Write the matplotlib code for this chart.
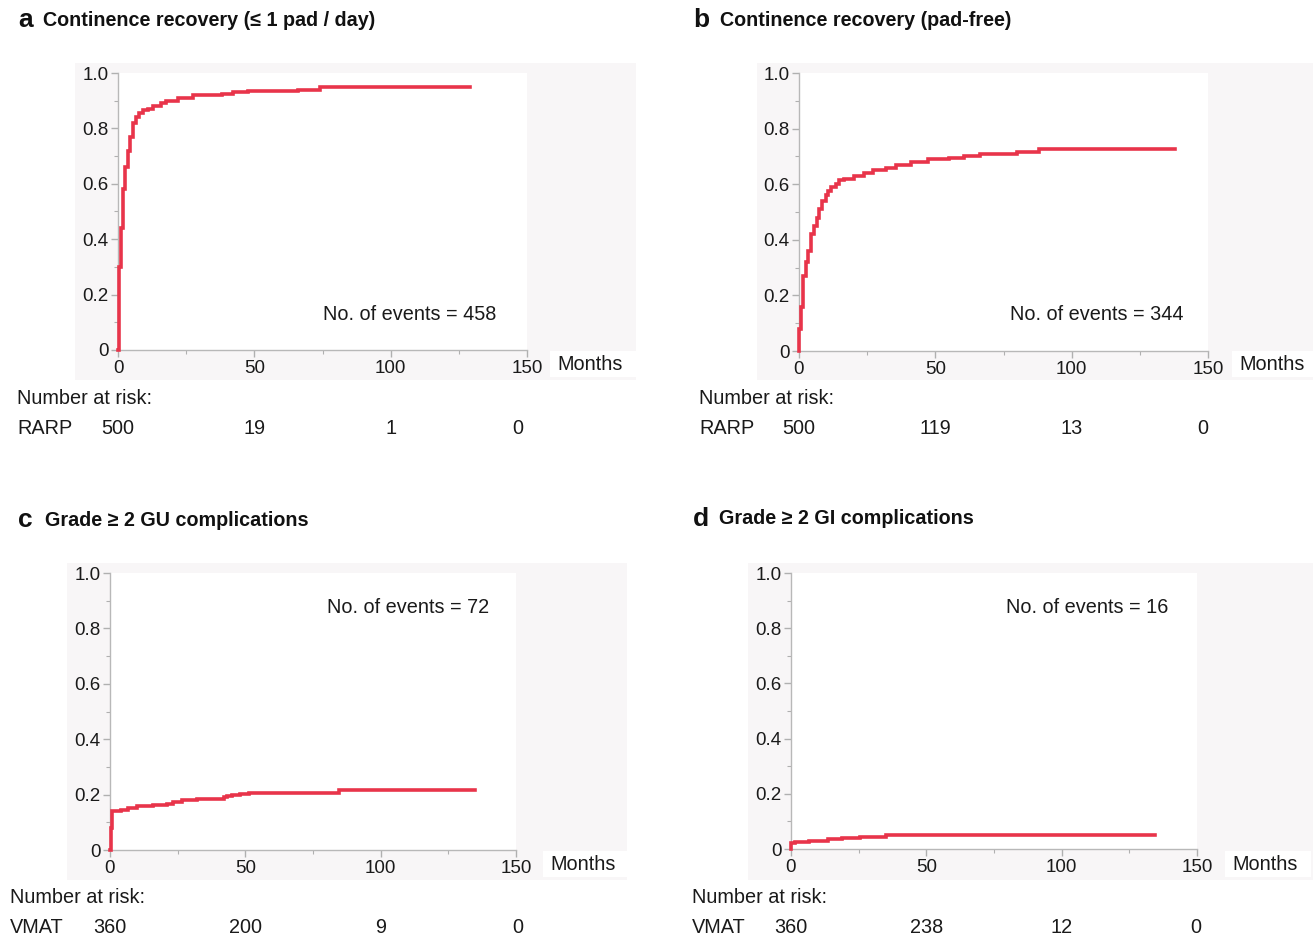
import matplotlib
matplotlib.use("Agg")
import matplotlib.pyplot as plt
from matplotlib.patches import Rectangle
from matplotlib.ticker import MultipleLocator, FixedLocator
import matplotlib.transforms as mtransforms

plt.rcParams['font.family'] = ['Liberation Sans', 'DejaVu Sans']

W, H = 1315, 938

# ---------------- data ----------------
a_t = [0, 0.3, 1.0, 2.0, 2.7, 3.6, 4.5, 5.6, 6.5, 7.6, 9, 11, 13, 15.6, 17.6, 22, 27.6, 38, 42, 47.6, 66, 74, 129]
a_y = [0, 0.30, 0.44, 0.58, 0.66, 0.72, 0.77, 0.82, 0.84, 0.855, 0.865, 0.87, 0.88, 0.89, 0.90, 0.91, 0.92, 0.925, 0.93, 0.935, 0.937, 0.948, 0.948]

b_t = [0, 0.1, 0.65, 1.6, 2.5, 3.3, 4.5, 5.5, 6.5, 7.5, 8.5, 9.8, 10.7, 11.8, 13.4, 14.7, 16.6, 20, 24, 27, 32, 35.6, 41, 47.4, 55, 60.5, 66.4, 80, 88, 138]
b_y = [0, 0.08, 0.16, 0.27, 0.32, 0.36, 0.42, 0.45, 0.48, 0.51, 0.54, 0.56, 0.575, 0.59, 0.60, 0.615, 0.62, 0.63, 0.64, 0.65, 0.66, 0.67, 0.68, 0.69, 0.695, 0.70, 0.71, 0.715, 0.725, 0.725]

c_t = [0, 0.3, 0.8, 4, 6.7, 10, 16, 21, 23.3, 26.7, 32, 42, 43.3, 45, 48, 51.3, 84.7, 134.7]
c_y = [0, 0.08, 0.14, 0.145, 0.15, 0.158, 0.162, 0.167, 0.175, 0.18, 0.185, 0.19, 0.195, 0.198, 0.202, 0.207, 0.218, 0.218]

d_t = [0, 0.1, 1.3, 6.7, 13.5, 18.8, 25.6, 35, 134.6]
d_y = [0, 0.02, 0.025, 0.028, 0.035, 0.04, 0.045, 0.05, 0.05]

risk_times = [0, 50, 100, 150]
a_risk = ['500', '19', '1', '0']
b_risk = ['500', '119', '13', '0']
c_risk = ['360', '200', '9', '0']
d_risk = ['360', '238', '12', '0']

titles = ['Continence recovery (≤ 1 pad / day)', 'Continence recovery (pad-free)',
          'Grade ≥ 2 GU complications', 'Grade ≥ 2 GI complications']
letters = ['a', 'b', 'c', 'd']
groups = ['RARP', 'RARP', 'VMAT', 'VMAT']
events = ['No. of events = 458', 'No. of events = 344', 'No. of events = 72', 'No. of events = 16']

RED = '#e8344a'
BG = '#f8f6f7'
TXT = '#1a1a1a'
FS = 14.3

fig = plt.figure(figsize=(W / 100, H / 100), dpi=100)


def fx(px):
    return px / W


def fy(py):
    return 1 - py / H


panels = [
    dict(ax=(118, 527, 73, 350), bg=(75, 636, 63, 380), lx=18, tx=43, ty=20, rx=17, ry=398,
         ev=(496, 315), mon=(557, 364), t=a_t, y=a_y, risk=a_risk, lastdx=-3.3),
    dict(ax=(799, 1208, 73, 351), bg=(757, 1313, 63, 380), lx=693, tx=720, ty=20, rx=699, ry=398,
         ev=(1184, 315), mon=(1239, 364), t=b_t, y=b_y, risk=b_risk, lastdx=-1.8),
    dict(ax=(110, 516, 573, 850), bg=(67, 627, 563, 880), lx=18, tx=45, ty=520, rx=10, ry=897,
         ev=(489, 607), mon=(550, 864), t=c_t, y=c_y, risk=c_risk, lastdx=0.7),
    dict(ax=(791, 1197, 573, 849), bg=(748, 1313, 563, 880), lx=693, tx=719, ty=519, rx=692, ry=897,
         ev=(1168, 607), mon=(1232, 864), t=d_t, y=d_y, risk=d_risk, lastdx=-0.4),
]

for i, p in enumerate(panels):
    bx0, bx1, by0, by1 = p['bg']
    fig.patches.append(Rectangle((fx(bx0), fy(by1)), fx(bx1 - bx0), (by1 - by0) / H,
                                 transform=fig.transFigure, facecolor=BG, edgecolor='none', zorder=-5))
    x0, x1, yt, yb = p['ax']
    ax = fig.add_axes([fx(x0), fy(yb), fx(x1 - x0), (yb - yt) / H])
    ax.set_zorder(2)
    ax.set_facecolor('white')
    ax.step(p['t'], p['y'], where='post', color=RED, lw=2.6, solid_joinstyle='miter', clip_on=False, zorder=3)
    ax.set_xlim(0, 150)
    ax.set_ylim(0, 1.0)
    ax.xaxis.set_major_locator(FixedLocator([0, 50, 100, 150]))
    ax.xaxis.set_minor_locator(MultipleLocator(25))
    ax.yaxis.set_major_locator(FixedLocator([0, 0.2, 0.4, 0.6, 0.8, 1.0]))
    ax.yaxis.set_minor_locator(MultipleLocator(0.1))
    ax.set_yticklabels(['0', '0.2', '0.4', '0.6', '0.8', '1.0'])
    ax.set_xticklabels(['0', '50', '100', '150'])
    for s in ['top', 'right']:
        ax.spines[s].set_visible(False)
    for s in ['left', 'bottom']:
        ax.spines[s].set_color('#b8b8b8')
        ax.spines[s].set_linewidth(1.0)
    ax.tick_params(which='both', direction='out', color='#b0b0b0', labelsize=13.5, labelcolor=TXT)
    ax.tick_params(which='major', length=5, width=1, pad=2)
    ax.tick_params(which='minor', length=3, width=0.8)

    # Months label with white box
    mx, my = p['mon']
    fig.patches.append(Rectangle((fx(mx - 7), fy(my + 13)), fx(86), 26 / H, transform=fig.transFigure,
                                 facecolor='white', edgecolor='none', zorder=-4))
    fig.text(fx(mx), fy(my), 'Months', fontsize=FS, va='center', ha='left', color=TXT)

    # events text
    ex, ey = p['ev']
    fig.text(fx(ex), fy(ey), events[i], fontsize=FS, va='center', ha='right', color=TXT, zorder=5)

    # titles
    fig.text(fx(p['lx']), fy(p['ty']), letters[i], fontsize=19, fontweight='bold', va='center', ha='left', color='#111111')
    fig.text(fx(p['tx']), fy(p['ty']), titles[i], fontsize=14.2, fontweight='bold', va='center', ha='left', color='#111111')

    # number at risk
    fig.text(fx(p['rx']), fy(p['ry']), 'Number at risk:', fontsize=FS, va='center', ha='left', color=TXT)
    fig.text(fx(p['rx']), fy(p['ry'] + 30), groups[i], fontsize=FS, va='center', ha='left', color=TXT)
    trans = mtransforms.blended_transform_factory(ax.transData, fig.transFigure)
    for tval, lab in zip(risk_times, p['risk']):
        xx = tval if tval < 150 else tval + p['lastdx']
        fig.text(xx, fy(p['ry'] + 30), lab, transform=trans, fontsize=FS, va='center', ha='center', color=TXT)

fig.savefig('out.png', dpi=100, facecolor='white')
